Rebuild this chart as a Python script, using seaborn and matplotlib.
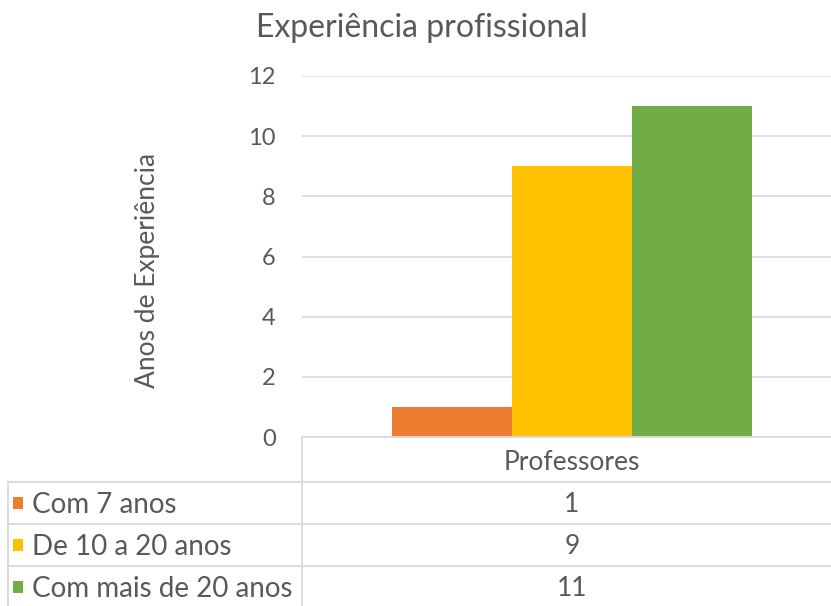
import matplotlib
matplotlib.use("Agg")
import matplotlib.pyplot as plt
import seaborn as sns
import pandas as pd
from matplotlib.lines import Line2D
from matplotlib.patches import Rectangle

# Data
category = ["Professores"]
series = ["Com 7 anos", "De 10 a 20 anos", "Com mais de 20 anos"]
values = [1, 9, 11]
colors = ["#ED7D31", "#FFC000", "#70AD47"]
yticks = [0, 2, 4, 6, 8, 10, 12]
title = "Experiência profissional"
ylabel = "Anos de Experiência"

sns.set_theme(style="white")
plt.rcParams["font.family"] = ["Lato", "DejaVu Sans"]

W, H = 831, 606
fig = plt.figure(figsize=(W / 100, H / 100), dpi=100)
fig.patch.set_facecolor("white")

def fx(x):
    return x / W

def fy(y):
    return 1 - y / H

ax_left, ax_right, ax_top, ax_bot = 302, 831, 76, 437
ax = fig.add_axes([fx(ax_left), fy(ax_bot), (ax_right - ax_left) / W, (ax_bot - ax_top) / H])

df = pd.DataFrame({"cat": category * len(series), "serie": series, "val": values})
sns.barplot(data=df, x="cat", y="val", hue="serie", palette=colors, saturation=1,
            width=0.8, legend=False, ax=ax, edgecolor="none")

ax.set_ylim(0, 12)
ax.set_xlim(-0.6, 259 / 450)
ax.set_yticks(yticks)
ax.set_yticklabels([str(t) for t in yticks])
ax.set_xticks([])
ax.set_xlabel("")
ax.set_ylabel("")
ax.grid(axis="y", color="#d9d9d9", linewidth=1.2)
ax.set_axisbelow(True)
for s in ax.spines.values():
    s.set_visible(False)
ax.tick_params(axis="y", length=0, pad=19, labelsize=17, labelcolor="#595959")
ax.patch.set_alpha(0)

text_color = "#595959"
fig.text(fx(422), fy(28), title, ha="center", va="center", fontsize=23, color=text_color)
fig.text(fx(148), fy(270), ylabel, ha="center", va="center", rotation=90, fontsize=19, color=text_color)

# Data table
line_kw = dict(color="#d9d9d9", linewidth=1.3, transform=fig.transFigure)
def hline(x0, x1, y):
    fig.add_artist(Line2D([fx(x0), fx(x1)], [fy(y), fy(y)], **line_kw))

def vline(x, y0, y1):
    fig.add_artist(Line2D([fx(x), fx(x)], [fy(y0), fy(y1)], **line_kw))

hline(302, 831, 437)
row_tops = [482, 524, 566]
for y in row_tops:
    hline(8, 831, y)
vline(302, 437, 606)
vline(8, 482, 606)

fig.text(fx(572), fy(463), category[0], ha="center", va="center", fontsize=19, color=text_color)
row_h = 42
for i, (name, val, col) in enumerate(zip(series, values, colors)):
    yc = row_tops[i] + row_h / 2
    fig.add_artist(Rectangle((fx(13), fy(yc + 6)), 10 / W, 12 / H, facecolor=col,
                             edgecolor="none", transform=fig.transFigure))
    fig.text(fx(32), fy(yc + 2), name, ha="left", va="center", fontsize=20, color=text_color)
    fig.text(fx(572), fy(yc + 2), str(val), ha="center", va="center", fontsize=19, color=text_color)

fig.savefig("out.png", dpi=100, facecolor="white")
